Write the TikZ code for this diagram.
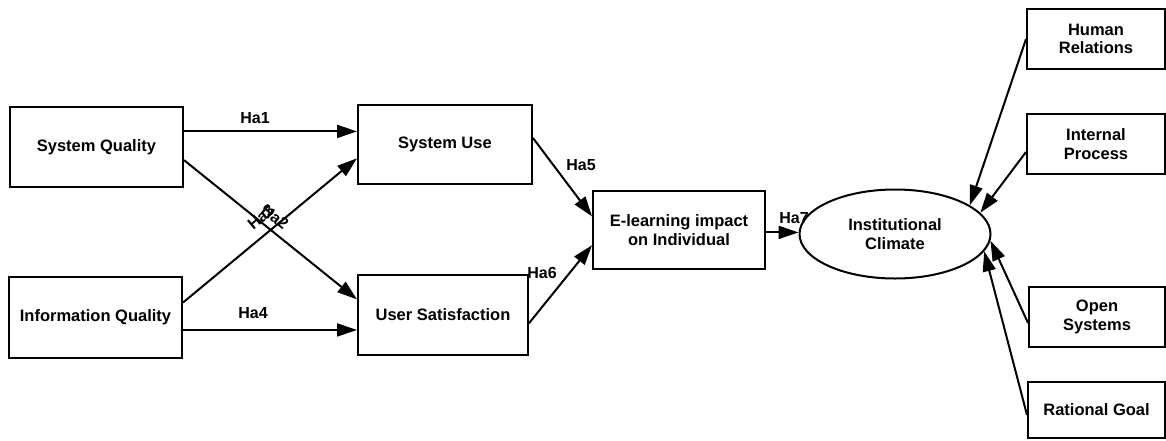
\documentclass[tikz,border=0pt]{standalone}
\usepackage{fontspec}
\setmainfont{Liberation Sans}
\usetikzlibrary{arrows.meta,calc,shapes.geometric}

\tikzset{
  box/.style={draw, line width=2pt, rectangle, inner sep=0pt, align=center,
    font=\fontsize{16.5}{18.5}\selectfont\bfseries},
  oval/.style={draw, line width=2pt, ellipse, inner sep=0pt, align=center,
    font=\fontsize{16.5}{18.5}\selectfont\bfseries},
  arr/.style={line width=2pt, -{Triangle[length=20pt,width=13pt]}},
  lbl/.style={inner sep=0pt, font=\fontsize{16}{18}\selectfont\bfseries}
}

\begin{document}
\begin{tikzpicture}[x=1pt,y=-1pt]
\useasboundingbox (0,0) rectangle (1166,440);

% information system success constructs
\node[box, minimum width=173pt, minimum height=80pt] (sq) at (96.5,147) {System Quality};
\node[box, minimum width=173pt, minimum height=81pt] (iq) at (95.5,317.5) {Information Quality};
\node[box, minimum width=174pt, minimum height=79pt] (su) at (445,144.5) {System Use};
\node[box, minimum width=170pt, minimum height=80pt] (us) at (443,315) {User Satisfaction};
\node[box, minimum width=172pt, minimum height=78pt] (el) at (679,230) {E-learning impact\\on Individual};

% institutional climate and its four dimensions
\node[oval, minimum width=191pt, minimum height=89pt] (ic) at (895,234) {Institutional\\Climate};
\node[box, minimum width=138pt, minimum height=60pt] (hr) at (1096,39) {Human\\Relations};
\node[box, minimum width=138pt, minimum height=60pt] (ip) at (1096,144) {Internal\\Process};
\node[box, minimum width=136pt, minimum height=60pt] (os) at (1097,317) {Open\\Systems};
\node[box, minimum width=137pt, minimum height=56pt] (rg) at (1096.5,410) {Rational Goal};

% hypothesised paths
\draw[arr] ($(sq.north east)!0.31!(sq.south east)$) coordinate (h1) -- (h1 -| su.west);
\draw[arr] ($(sq.north east)!0.66!(sq.south east)$) -- ($(us.north west)!0.31!(us.south west)$);
\draw[arr] ($(iq.north east)!0.32!(iq.south east)$) -- ($(su.north west)!0.67!(su.south west)$);
\draw[arr] ($(iq.north east)!0.65!(iq.south east)$) coordinate (h4) -- (h4 -| us.west);
\draw[arr] ($(su.north east)!0.42!(su.south east)$) -- ($(el.north west)!0.33!(el.south west)$);
\draw[arr] ($(us.north east)!0.60!(us.south east)$) -- ($(el.north west)!0.69!(el.south west)$);
\draw[arr] ($(el.north east)!0.53!(el.south east)$) coordinate (h7) -- (h7 -| ic.west);

% climate dimensions pointing into the climate construct
\draw[arr] (hr.west) -- (ic.21);
\draw[arr] ([yshift=-8pt]ip.west) -- (ic.14);
\draw[arr] ([yshift=-6pt]os.west) -- (ic.-4);
\draw[arr] ([yshift=-5pt]rg.west) -- (ic.-11);

% path labels
\node[lbl] (l1) at (255,118) {Ha1};
\node[lbl, rotate=40] (l3) at (261,217) {Ha3};
\node[lbl, rotate=-39] (l2) at (275,217) {Ha2};
\node[lbl] (l4) at (253,313) {Ha4};
\node[lbl] (l5) at (581,165) {Ha5};
\node[lbl] (l6) at (542,273) {Ha6};
\node[lbl] (l7) at (794,218) {Ha7};
\end{tikzpicture}
\end{document}
